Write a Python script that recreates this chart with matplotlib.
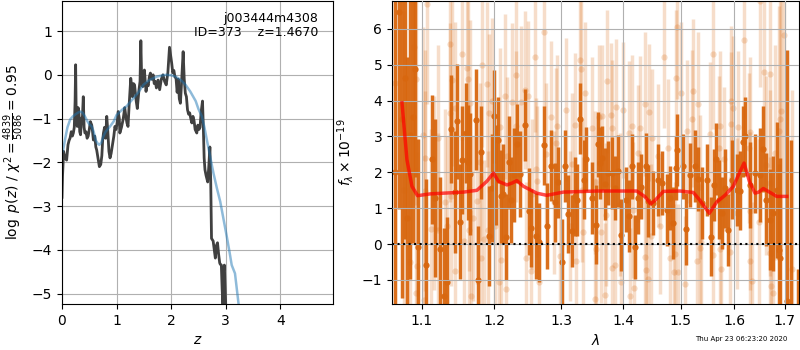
#!/usr/bin/env python3

import numpy as np
import matplotlib
matplotlib.use('Agg')
import matplotlib.pyplot as plt

# --- redshift probability (left panel) ---
pz_z = [0.0, 0.01, 0.03, 0.055, 0.085, 0.11, 0.13, 0.147, 0.17, 0.19, 0.208, 0.225, 0.24, 0.25,
        0.26, 0.28, 0.295, 0.31, 0.325, 0.34, 0.36, 0.375, 0.39, 0.405, 0.42, 0.44, 0.46, 0.48,
        0.50, 0.52, 0.545, 0.56, 0.575, 0.60, 0.62, 0.636, 0.66, 0.685, 0.71, 0.73, 0.745, 0.76,
        0.78, 0.80, 0.82, 0.84, 0.86, 0.88, 0.90, 0.93, 0.95, 0.97, 0.99, 1.01, 1.03, 1.05, 1.06,
        1.09, 1.12, 1.15, 1.17, 1.19, 1.21, 1.23, 1.26, 1.28, 1.29, 1.31, 1.33, 1.36, 1.38, 1.41,
        1.43, 1.445, 1.46, 1.48, 1.50, 1.51, 1.53, 1.54, 1.56, 1.58, 1.60, 1.62, 1.645, 1.67, 1.69,
        1.71, 1.73, 1.76, 1.79, 1.82, 1.85, 1.88, 1.91, 1.94, 1.97, 1.99, 2.01, 2.03, 2.05, 2.07,
        2.09, 2.11, 2.13, 2.15, 2.17, 2.19, 2.22, 2.24, 2.26, 2.28, 2.30, 2.32, 2.34, 2.36, 2.38,
        2.40, 2.42, 2.44, 2.47, 2.49, 2.51, 2.53, 2.55, 2.575, 2.59, 2.605, 2.62, 2.64, 2.67, 2.69,
        2.71, 2.725, 2.74, 2.77, 2.79, 2.81, 2.83, 2.85, 2.87, 2.89, 2.90, 2.92, 2.935, 2.95, 2.96,
        2.975, 2.99, 3.01]
pz_logp = [-2.8, -2.3, -1.75, -1.9, -1.95, -1.6, -1.5, -1.45, -1.3, -1.4, -1.33, -1.2, -0.6, 0.23,
           -0.9, -1.18, -0.75, -0.85, -1.3, -1.37, -1.0, -0.95, -0.5, -1.2, -1.33, -1.3, -1.45, -1.4,
           -1.25, -1.07, -1.15, -1.3, -1.49, -1.4, -1.65, -1.72, -1.9, -2.1, -2.05, -1.85, -1.5, -1.33,
           -1.2, -1.45, -0.95, -1.3, -1.75, -1.9, -1.8, -1.56, -1.4, -1.18, -1.25, -1.1, -0.84, -1.0, -1.33,
           -1.2, -1.02, -0.75, -0.95, -1.1, -1.18, -0.7, -0.08, -0.3, -0.5, -0.2, -0.23, -0.6, -0.77, -0.35,
           -0.15, 0.78, -0.1, -0.27, 0.05, 0.11, -0.2, -0.38, -0.2, -0.25, -0.05, 0.04, -0.1, 0.0, -0.2,
           -0.15, -0.3, -0.12, -0.34, -0.1, 0.0, -0.15, -0.23, 0.05, 0.63, 0.45, 0.27, 0.05, 0.1, -0.05,
           -0.08, -0.4, -0.1, -0.55, -0.65, -0.2, 0.53, -0.1, -0.42, -0.5, -0.8, -0.9, -0.87, -1.0, -1.1,
           -0.95, -1.05, -1.25, -1.33, -1.15, -1.25, -1.2, -0.85, -0.6, -1.2, -1.9, -2.17, -2.3, -2.45, -2.1,
           -1.65, -2.4, -3.74, -3.8, -4.0, -4.19, -3.9, -3.84, -4.1, -4.3, -4.33, -4.35, -4.9, -5.3, -4.5,
           -4.35, -4.9, -5.6]

prior_z = [0.0, 0.02, 0.06, 0.10, 0.15, 0.20, 0.25, 0.30, 0.34, 0.38, 0.42, 0.46, 0.50, 0.545,
           0.58, 0.62, 0.66, 0.685, 0.72, 0.76, 0.80, 0.88, 0.95, 1.00, 1.10, 1.19, 1.25, 1.30,
           1.40, 1.49, 1.60, 1.74, 1.85, 1.91, 2.00, 2.08, 2.17, 2.26, 2.35, 2.45, 2.50, 2.563,
           2.61, 2.655, 2.72, 2.776, 2.84, 2.90, 2.96, 3.02, 3.07, 3.11, 3.17, 3.22, 3.26]
prior_logp = [-1.78, -1.72, -1.45, -1.2, -1.02, -0.95, -0.9, -0.86, -0.84, -0.87, -0.95, -1.05, -1.13, -1.18,
              -1.3, -1.5, -1.58, -1.6, -1.55, -1.4, -1.3, -1.18, -1.06, -0.92, -0.8, -0.71, -0.62, -0.55,
              -0.4, -0.23, -0.12, -0.04, -0.01, 0.0, -0.01, -0.04, -0.11, -0.22, -0.38, -0.6, -0.78, -0.95,
              -1.2, -1.49, -1.9, -2.25, -2.6, -2.9, -3.3, -3.7, -4.05, -4.35, -4.54, -5.07, -5.5]

# --- spectrum (right panel) ---
dark_wave = [1.0655, 1.0702, 1.0740, 1.0781, 1.0803, 1.0844, 1.0887, 1.0912, 1.0950, 1.1050,
             1.1132, 1.1179, 1.1242, 1.1289, 1.1330, 1.1394, 1.1441, 1.1472, 1.1510, 1.1545,
             1.1592, 1.1624, 1.1656, 1.1738, 1.1766, 1.1807, 1.1923, 1.1959, 1.1992, 1.2025,
             1.2048, 1.2100, 1.2130, 1.2160, 1.2210, 1.2235, 1.2284, 1.2335, 1.2370, 1.2449,
             1.2500, 1.2534, 1.2609, 1.2659, 1.2734, 1.2784, 1.2834, 1.2898, 1.2949, 1.3019,
             1.3063, 1.3107, 1.3171, 1.3213, 1.3252, 1.3289, 1.3359, 1.3398, 1.3494, 1.3559,
             1.3591, 1.3624, 1.3650, 1.3693, 1.3758, 1.3823, 1.3866, 1.3919, 1.3963, 1.4057,
             1.4099, 1.4144, 1.4203, 1.4248, 1.4307, 1.4387, 1.4434, 1.4521, 1.4608, 1.4665,
             1.4752, 1.4811, 1.4868, 1.4915, 1.4943, 1.5045, 1.5106, 1.5169, 1.5262, 1.5310,
             1.5385, 1.5485, 1.5559, 1.5608, 1.5658, 1.5700, 1.5764, 1.5825, 1.5887, 1.5950,
             1.6045, 1.6111, 1.6164, 1.6209, 1.6308, 1.6407, 1.6506, 1.6559, 1.6625, 1.6704,
             1.6769, 1.6836, 1.6881, 1.6901, 1.7048, 1.7119, 1.7265]
dark_flux = [2.0, 6.47, 3.5, 4.63, 0.72, 3.03, 3.54, 4.88, -0.07, -0.58,
             2.37, 1.28, -0.13, -1.44, -1.05, 3.21, 1.44, 3.42, 0.63, 2.35,
             3.10, 2.28, 1.96, 3.47, -1.00, 2.56, 0.23, 1.56, 3.56, 1.93,
             2.91, 1.33, 1.40, 0.21, 2.28, 1.24, 1.93, 2.80, 1.95, 3.33,
             0.91, 0.45, 0.23, 0.05, 2.76, 0.51, 2.19, 1.16, 1.72, -0.49,
             2.17, 0.84, 0.37, 1.33, 1.22, 3.50, 1.79, 2.37, 1.28, 0.54,
             2.78, 2.26, 2.40, 1.68, 1.98, 1.99, 1.56, 2.04, 0.26, 1.24,
             0.79, 2.17, -0.08, 1.28, 1.60, 2.19, 1.20, 1.14, 1.79, 1.70,
             0.96, 1.28, 0.59, 2.12, 2.63, 2.17, 0.42, 1.93, 2.17, 1.82,
             1.14, 1.79, 0.20, 1.65, 2.38, 1.24, 0.86, 1.56, 0.40, 1.79,
             1.51, 1.49, 2.86, 3.00, 1.65, 1.97, 1.93, 2.65, 1.24, 0.68,
             0.86, 1.51, -0.16, -0.40, -1.58, -2.50, -3.00]
dark_err = [6.0, 5.5, 5.0, 4.5, 4.5, 4.0, 3.5, 3.0, 3.0, 2.4,
            1.8, 2.2, 2.0, 1.9, 1.8, 1.5, 1.7, 1.6, 1.6, 1.5,
            1.4, 1.6, 1.7, 1.4, 1.5, 1.3, 1.4, 1.5, 1.3, 1.4,
            1.2, 1.3, 1.4, 1.2, 1.3, 1.2, 1.3, 1.1, 1.2, 1.0,
            1.2, 1.1, 1.2, 1.1, 1.1, 1.2, 1.0, 1.1, 1.0, 1.2,
            1.0, 1.1, 1.0, 1.1, 1.0, 1.0, 1.1, 0.9, 1.0, 1.1,
            0.9, 1.0, 0.9, 1.0, 0.9, 1.0, 0.9, 1.0, 1.0, 0.9,
            1.0, 0.9, 0.9, 1.0, 0.9, 0.9, 1.0, 0.9, 1.0, 0.9,
            1.0, 0.9, 1.0, 0.9, 1.0, 0.9, 1.0, 0.9, 1.0, 0.9,
            1.0, 1.0, 1.1, 1.0, 1.0, 1.1, 1.0, 1.1, 1.0, 1.1,
            1.0, 1.1, 1.0, 1.1, 1.2, 1.1, 1.3, 1.2, 1.3, 1.4,
            1.6, 1.9, 2.4, 2.8, 7.0, 5.4, 2.3]

light_wave = [1.0650, 1.0760, 1.0850, 1.0900, 1.0920, 1.0928, 1.0941, 1.1014, 1.1028, 1.1035,
              1.1041, 1.1073, 1.1118, 1.1165, 1.1211, 1.1215, 1.1303, 1.1335, 1.1372, 1.1380,
              1.1385, 1.1408, 1.1441, 1.1445, 1.1545, 1.1569, 1.1610, 1.1630, 1.1632, 1.1638,
              1.1647, 1.1669, 1.1693, 1.1745, 1.1799, 1.1807, 1.1821, 1.1848, 1.1890, 1.1900,
              1.1923, 1.1968, 1.2010, 1.2070, 1.2085, 1.2100, 1.2150, 1.2160, 1.2185, 1.2260,
              1.2310, 1.2320, 1.2385, 1.2449, 1.2459, 1.2485, 1.2534, 1.2558, 1.2599, 1.2609,
              1.2634, 1.2659, 1.2734, 1.2759, 1.2834, 1.2883, 1.2924, 1.2934, 1.2984, 1.3074,
              1.3145, 1.3171, 1.3213, 1.3226, 1.3300, 1.3315, 1.3330, 1.3344, 1.3375, 1.3494,
              1.3530, 1.3535, 1.3557, 1.3601, 1.3640, 1.3650, 1.3693, 1.3715, 1.3731, 1.3801,
              1.3810, 1.3823, 1.3866, 1.3888, 1.3947, 1.3963, 1.3996, 1.4099, 1.4116, 1.4156,
              1.4174, 1.4190, 1.4248, 1.4290, 1.4366, 1.4377, 1.4395, 1.4434, 1.4446, 1.4481,
              1.4491, 1.4595, 1.4637, 1.4712, 1.4781, 1.4811, 1.4886, 1.4908, 1.4925, 1.4943,
              1.4955, 1.5002, 1.5087, 1.5125, 1.5199, 1.5230, 1.5292, 1.5323, 1.5355, 1.5361,
              1.5370, 1.5546, 1.5589, 1.5601, 1.5700, 1.5719, 1.5725, 1.5738, 1.5806, 1.5912,
              1.5930, 1.5945, 1.5968, 1.6057, 1.6077, 1.6190, 1.6275, 1.6295, 1.6308, 1.6310,
              1.6342, 1.6472, 1.6506, 1.6571, 1.6625, 1.6690, 1.6704, 1.6706, 1.6715, 1.6757,
              1.6803, 1.6888, 1.6895, 1.6921, 1.6981, 1.7152]
light_flux = [4.5, 1.5, -0.5, 5.50, 4.60, -1.35, -0.62, 3.05, -1.55, 1.48,
              2.40, 6.70, 0.42, 1.42, 2.96, 0.40, 1.16, 0.50, 3.66, 5.58,
              1.33, 4.57, -0.74, 3.80, 5.31, 0.10, 4.91, 4.60, 0.38, 1.56,
              3.94, -1.46, 0.72, 1.20, 2.30, -0.40, 5.00, 0.14, 4.45, 0.40,
              3.66, 4.00, 0.50, -1.05, 3.26, -0.44, 4.12, -1.24, 2.45, 3.97,
              3.28, 4.72, 3.97, 4.30, -0.38, 4.12, -0.75, 1.40, 5.22, 2.08,
              1.75, -1.05, 5.92, 2.50, 3.55, 1.16, 2.82, 3.28, -0.33, 3.75,
              0.50, 2.22, 3.33, -0.47, 5.14, 4.89, 1.50, 0.33, 4.20, 3.23,
              1.72, -1.52, -0.15, 3.55, 0.35, 3.56, -1.42, 0.82, 4.54, 3.60,
              -0.67, 3.24, -0.58, 3.82, 1.10, -1.05, 3.73, 3.10, -1.45, 3.28,
              0.96, -1.23, 2.53, 3.24, -0.35, 3.90, -0.73, -0.96, 3.67, 0.22,
              2.97, 2.47, 0.50, 5.23, 2.69, -0.40, -0.77, -0.28, 4.63, 6.05,
              -0.77, 4.20, -1.12, 3.14, 3.50, 4.27, -0.47, 3.90, -0.10, 1.59,
              0.05, 3.07, 5.30, -0.31, 2.68, 3.29, -0.13, -0.70, 2.37, -0.22,
              3.36, 3.98, 3.80, 0.86, 3.27, 5.68, 2.68, 0.93, 3.13, -0.46,
              -1.04, 0.62, 6.77, 4.80, 2.20, 1.71, 4.73, -0.26, -1.18, -1.37,
              2.55, 3.15, 3.48, 3.70, 5.84, -0.70]
light_err = [5.5, 5.0, 4.5, 3.5, 3.5, 3.5, 3.2, 3.0, 3.0, 2.8,
             3.0, 2.8, 2.8, 2.7, 2.6, 2.7, 2.6, 2.5, 2.5, 2.6,
             2.5, 2.4, 2.5, 2.4, 2.4, 2.3, 2.4, 2.3, 2.4, 2.3,
             2.3, 2.4, 2.3, 2.3, 2.2, 2.3, 2.3, 2.2, 2.3, 2.2,
             2.2, 2.3, 2.2, 2.3, 2.2, 2.2, 2.3, 2.2, 2.2, 2.2,
             2.1, 2.2, 2.1, 2.2, 2.1, 2.1, 2.2, 2.1, 2.1, 2.0,
             2.1, 2.1, 2.1, 2.0, 2.1, 2.0, 2.1, 2.0, 2.1, 2.0,
             2.1, 2.0, 2.0, 2.1, 2.0, 2.0, 2.0, 2.1, 2.0, 2.0,
             2.0, 2.1, 2.0, 2.0, 2.0, 2.0, 2.0, 2.0, 2.0, 2.0,
             2.0, 1.9, 2.0, 1.9, 2.0, 2.0, 1.9, 2.0, 1.9, 2.0,
             1.9, 2.0, 1.9, 2.0, 1.9, 2.0, 1.9, 2.0, 1.9, 2.0,
             1.9, 2.0, 1.9, 2.0, 1.9, 2.0, 1.9, 2.0, 1.9, 2.0,
             1.9, 2.0, 1.9, 2.0, 1.9, 2.0, 1.9, 2.0, 1.9, 2.0,
             2.0, 2.0, 2.1, 2.0, 2.0, 2.1, 2.0, 2.1, 2.0, 2.1,
             2.0, 2.1, 2.0, 2.1, 2.1, 2.2, 2.1, 2.2, 2.1, 2.2,
             2.2, 2.3, 2.4, 2.4, 2.5, 2.6, 2.6, 2.7, 2.7, 2.8,
             3.0, 3.5, 3.8, 4.0, 4.5, 5.0]

model_wave = [1.0740, 1.0804, 1.0869, 1.0942, 1.1110, 1.1562, 1.1750, 1.1890, 1.1985, 1.2057,
              1.2180, 1.2253, 1.2326, 1.2425, 1.2624, 1.2776, 1.3034, 1.3566, 1.4232, 1.4375,
              1.4473, 1.4549, 1.4694, 1.4990, 1.5231, 1.5353, 1.5526, 1.5664, 1.5821, 1.5980,
              1.6096, 1.6187, 1.6291, 1.6402, 1.6475, 1.6566, 1.6700, 1.6834, 1.7038]
model_flux = [3.94, 2.35, 1.61, 1.35, 1.40, 1.45, 1.50, 1.75, 1.98, 1.75,
              1.65, 1.70, 1.77, 1.61, 1.42, 1.36, 1.45, 1.48, 1.48, 1.32,
              1.12, 1.22, 1.47, 1.48, 1.44, 1.22, 0.86, 1.17, 1.36, 1.61,
              1.98, 2.26, 1.75, 1.42, 1.45, 1.55, 1.44, 1.33, 1.33]

wave_ticks = [1.1, 1.2, 1.3, 1.4, 1.5, 1.6, 1.7]

orange = '#d8670f'

fig = plt.figure(figsize=(8, 3.5), dpi=100)

# left: log p(z)
ax1 = fig.add_axes([0.0775, 0.1314, 0.339, 0.866])
ax1.plot(pz_z, pz_logp, color='0.25', lw=2)
ax1.plot(prior_z, prior_logp, color='#1f77b4', alpha=0.5, lw=1.8)
ax1.set_xlim(0, 4.97)
ax1.set_ylim(-5.24, 1.69)
ax1.set_xticks([0, 1, 2, 3, 4])
ax1.set_yticks([-5, -4, -3, -2, -1, 0, 1])
ax1.grid(True)
ax1.set_xlabel(r'$z$')
ax1.set_ylabel(r'$\log\ p(z)$' + ' / ' + r'$\chi^2=\frac{4839}{5086}=0.95$')
ax1.text(0.945, 0.965, 'j003444m4308\nID=373    z=1.4670', transform=ax1.transAxes,
         ha='right', va='top', fontsize=9, linespacing=1.1)

# right: spectrum
ax2 = fig.add_axes([0.49, 0.1314, 0.509, 0.866])
ax2.errorbar(light_wave, light_flux, yerr=light_err, fmt='o', color=orange, alpha=0.22,
             ms=4.5, elinewidth=2.5, capsize=0, mec='none')
ax2.errorbar(dark_wave, dark_flux, yerr=dark_err, fmt='o', color=orange, alpha=0.95,
             ms=4.5, elinewidth=2.5, capsize=0, mec='none')
ax2.plot(model_wave, model_flux, color='r', alpha=0.7, lw=2.5, zorder=5)
ax2.axhline(0, color='k', ls=':', lw=1.5, zorder=6)
ax2.set_xscale('log')
ax2.set_xlim(1.0612, 1.7294)
ax2.set_ylim(-1.67, 6.78)
ax2.set_xticks(wave_ticks)
ax2.set_xticklabels([f'{t:.1f}' for t in wave_ticks])
ax2.set_xticks([], minor=True)
ax2.set_axisbelow(False)
ax2.grid(True)
ax2.set_xlabel(r'$\lambda$')
ax2.set_ylabel(r'$f_\lambda \times 10^{-19}$')

fig.text(0.984, 0.031, 'Thu Apr 23 06:23:20 2020', ha='right', va='center', fontsize=5)

fig.savefig('out.png', dpi=100)
